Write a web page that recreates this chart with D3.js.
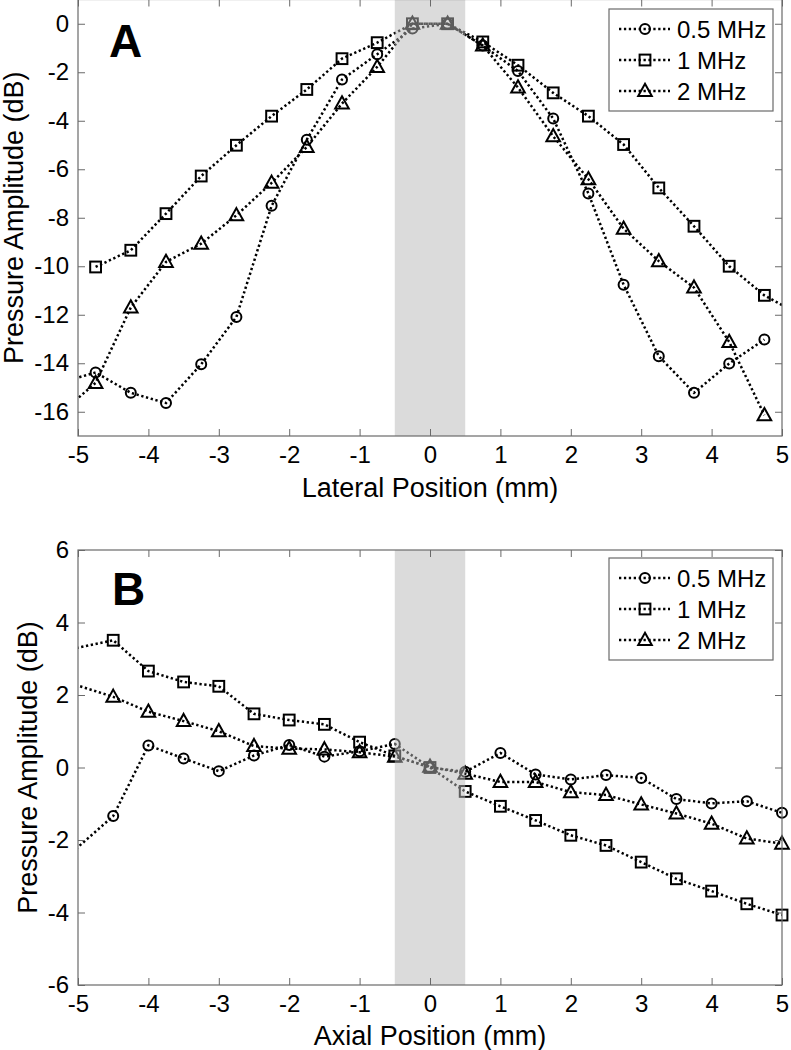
<!DOCTYPE html>
<html><head><meta charset="utf-8">
<script src="https://cdn.jsdelivr.net/npm/d3@7"></script>
<style>
body{margin:0;background:#fff}
svg{display:block}
text{font-family:"Liberation Sans",Arial,Helvetica,sans-serif;fill:#000}
</style>
</head><body>
<svg id="chart" width="791" height="1050"></svg>
<script>
// ---------- Data ----------
const seriesNames = ["0.5 MHz", "1 MHz", "2 MHz"];
const markerTypes = ["circle", "square", "triangle"];

// Panel A: lateral profile (points beyond ±5 only feed the clipped line ends)
const lateralX = [-5.25, -4.75, -4.25, -3.75, -3.25, -2.75, -2.25, -1.75, -1.25, -0.75, -0.25,
                  0.25, 0.75, 1.25, 1.75, 2.25, 2.75, 3.25, 3.75, 4.25, 4.75, 5.25];
const lateral05 = [-14.8, -14.38, -15.22, -15.64, -14.04, -12.09, -7.51, -4.78, -2.30, -1.26, -0.2,
                   0, -0.9, -1.95, -3.91, -7.0, -10.76, -13.71, -15.22, -14.01, -13.02, null];
const lateral1  = [null, -10.03, -9.34, -7.83, -6.28, -5.01, -3.81, -2.71, -1.44, -0.78, 0,
                   0, -0.75, -1.71, -2.85, -3.81, -4.98, -6.77, -8.35, -10.0, -11.2, -12.0];
const lateral2  = [-16.07, -14.81, -11.70, -9.82, -9.07, -7.9, -6.56, -5.08, -3.29, -1.78, 0,
                   0, -0.9, -2.63, -4.64, -6.41, -8.45, -9.79, -10.88, -13.12, -16.14, null];

// Panel B: axial profile
const axialX = [-5.5, -4.5, -4, -3.5, -3, -2.5, -2, -1.5, -1, -0.5, 0,
                0.5, 1, 1.5, 2, 2.5, 3, 3.5, 4, 4.5, 5];
const axial05 = [-3.05, -1.34, 0.61, 0.25, -0.1, 0.33, 0.62, 0.3, 0.45, 0.65, 0,
                 -0.12, 0.40, -0.19, -0.33, -0.21, -0.29, -0.87, -0.99, -0.93, -1.25];
const axial1  = [3.1, 3.51, 2.66, 2.36, 2.24, 1.48, 1.31, 1.19, 0.70, 0.32, 0,
                 -0.66, -1.07, -1.46, -1.87, -2.15, -2.61, -3.07, -3.41, -3.76, -4.07];
const axial2  = [2.57, 1.95, 1.54, 1.28, 1.0, 0.59, 0.52, 0.50, 0.42, 0.30, 0.02,
                 -0.17, -0.40, -0.40, -0.68, -0.76, -1.02, -1.27, -1.55, -1.96, -2.10];

const xTicks = [-5, -4, -3, -2, -1, 0, 1, 2, 3, 4, 5];
const yTicksA = [0, -2, -4, -6, -8, -10, -12, -14, -16];
const yTicksB = [-6, -4, -2, 0, 2, 4, 6];
const shadeRange = [-0.5, 0.5];

// ---------- Drawing ----------
const svg = d3.select("#chart");
const AXIS_COLOR = "#6a6a6a";
const fmt = d => String(d);   // plain hyphen-minus like the original

function drawMarker(g, type, cx, cy) {
  if (type === "circle") {
    g.append("circle").attr("cx", cx).attr("cy", cy).attr("r", 5)
      .attr("fill", "none").attr("stroke", "#000").attr("stroke-width", 2);
  } else if (type === "square") {
    g.append("rect").attr("x", cx - 5.4).attr("y", cy - 5.4).attr("width", 10.8).attr("height", 10.8)
      .attr("fill", "none").attr("stroke", "#000").attr("stroke-width", 2);
  } else {
    g.append("path").attr("d", `M${cx},${cy - 7.2}L${cx + 6.8},${cy + 5}L${cx - 6.8},${cy + 5}Z`)
      .attr("fill", "none").attr("stroke", "#000").attr("stroke-width", 2);
  }
}

function panel(cfg) {
  const x = d3.scaleLinear().domain([-5, 5]).range([78, 782]);
  const y = d3.scaleLinear().domain(cfg.yDomain).range(cfg.yRange);
  const top = cfg.yRange[1], bottom = cfg.yRange[0];
  const g = svg.append("g");
  const clipId = "clip" + cfg.id;
  svg.append("clipPath").attr("id", clipId).append("rect")
    .attr("x", 78).attr("y", top).attr("width", 704).attr("height", bottom - top);

  const line = d3.line().defined(d => d[1] !== null).x(d => x(d[0])).y(d => y(d[1]));
  cfg.series.forEach((vals, i) => {
    const pts = cfg.xs.map((xv, j) => [xv, vals[j]]);
    g.append("path").datum(pts).attr("d", line).attr("clip-path", `url(#${clipId})`)
      .attr("fill", "none").attr("stroke", "#000").attr("stroke-width", 2.5)
      .attr("stroke-dasharray", "2.3 2.6");
    const mg = g.append("g");
    pts.filter(p => p[1] !== null && p[0] >= -5 && p[0] <= 5)
      .forEach(p => drawMarker(mg, markerTypes[i], x(p[0]), y(p[1])));
  });

  // translucent shaded band on top of data
  g.append("rect").attr("x", x(shadeRange[0])).attr("y", top)
    .attr("width", x(shadeRange[1]) - x(shadeRange[0])).attr("height", bottom - top)
    .attr("fill", "rgb(184,184,184)").attr("fill-opacity", 0.5);

  // axes (MATLAB-like box with inward ticks)
  const fs = "24px";
  const ax = g.append("g").attr("transform", `translate(0,${bottom})`)
    .call(d3.axisBottom(x).tickValues(xTicks).tickSize(-7).tickPadding(10).tickFormat(fmt));
  const ay = g.append("g").attr("transform", `translate(78,0)`)
    .call(d3.axisLeft(y).tickValues(cfg.yTicks).tickSize(-7).tickPadding(9).tickFormat(fmt));
  const axT = g.append("g").attr("transform", `translate(0,${top})`)
    .call(d3.axisTop(x).tickValues(xTicks).tickSize(-7).tickFormat(""));
  const ayR = g.append("g").attr("transform", `translate(782,0)`)
    .call(d3.axisRight(y).tickValues(cfg.yTicks).tickSize(-7).tickFormat(""));
  [ax, ay, axT, ayR].forEach(a => {
    a.select(".domain").remove();
    a.selectAll(".tick line").attr("stroke", AXIS_COLOR);
    a.selectAll(".tick text").attr("font-size", fs)
      .attr("font-family", '"Liberation Sans",Arial,sans-serif').attr("fill", "#000");
  });
  g.append("rect").attr("x", 78).attr("y", top).attr("width", 704).attr("height", bottom - top)
    .attr("fill", "none").attr("stroke", AXIS_COLOR).attr("stroke-width", 1.2);

  // titles
  g.append("text").attr("x", 430).attr("y", cfg.xTitleY).attr("text-anchor", "middle")
    .attr("font-size", "27px").text(cfg.xTitle);
  g.append("text").attr("transform", `translate(${cfg.yTitleX},${(top + bottom) / 2}) rotate(-90)`)
    .attr("text-anchor", "middle").attr("font-size", "27px").text("Pressure Amplitude (dB)");
  g.append("text").attr("x", cfg.letterX).attr("y", cfg.letterY).attr("font-size", "46px")
    .attr("font-weight", "bold").text(cfg.letter);

  // legend
  const lg = g.append("g").attr("transform", `translate(609,${cfg.legendTop})`);
  lg.append("rect").attr("x", 0).attr("y", 0).attr("width", 164).attr("height", 102)
    .attr("fill", "#fff").attr("stroke", AXIS_COLOR).attr("stroke-width", 1.2);
  seriesNames.forEach((name, i) => {
    const ry = 20 + i * 31;
    lg.append("line").attr("x1", 10).attr("x2", 61).attr("y1", ry).attr("y2", ry)
      .attr("stroke", "#000").attr("stroke-width", 2.5).attr("stroke-dasharray", "2.3 2.6");
    drawMarker(lg, markerTypes[i], 36, ry);
    lg.append("text").attr("x", 68).attr("y", ry + 8.5).attr("font-size", "24px").text(name);
  });
}

panel({
  id: "A", xs: lateralX, series: [lateral05, lateral1, lateral2],
  yDomain: [-17, 1], yRange: [436, -0.5], yTicks: yTicksA,
  xTitle: "Lateral Position (mm)", xTitleY: 497, yTitleX: 23,
  letter: "A", letterX: 109, letterY: 57, legendTop: 9
});
panel({
  id: "B", xs: axialX, series: [axial05, axial1, axial2],
  yDomain: [-6, 6], yRange: [985, 550], yTicks: yTicksB,
  xTitle: "Axial Position (mm)", xTitleY: 1045, yTitleX: 37,
  letter: "B", letterX: 112, letterY: 605, legendTop: 558
});
</script>
</body></html>
